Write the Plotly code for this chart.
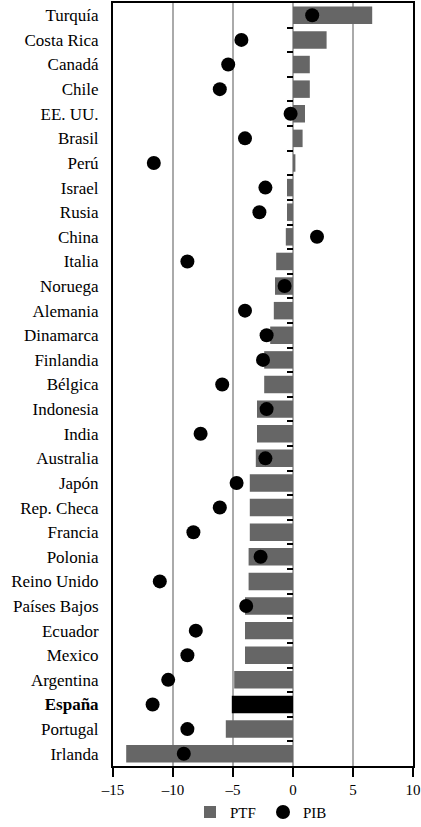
import plotly.graph_objects as go

countries = ["Turquía", "Costa Rica", "Canadá", "Chile", "EE. UU.", "Brasil", "Perú",
             "Israel", "Rusia", "China", "Italia", "Noruega", "Alemania", "Dinamarca",
             "Finlandia", "Bélgica", "Indonesia", "India", "Australia", "Japón",
             "Rep. Checa", "Francia", "Polonia", "Reino Unido", "Países Bajos",
             "Ecuador", "Mexico", "Argentina", "España", "Portugal", "Irlanda"]

ptf = [6.6, 2.8, 1.4, 1.4, 1.0, 0.8, 0.2,
       -0.5, -0.5, -0.6, -1.4, -1.5, -1.6, -1.9,
       -2.4, -2.4, -3.0, -3.0, -3.1, -3.6,
       -3.6, -3.6, -3.7, -3.7, -4.0,
       -4.0, -4.0, -4.9, -5.1, -5.6, -13.9]
pib = [1.6, -4.3, -5.4, -6.1, -0.2, -4.0, -11.6,
       -2.3, -2.8, 2.0, -8.8, -0.7, -4.0, -2.2,
       -2.5, -5.9, -2.2, -7.7, -2.3, -4.7,
       -6.1, -8.3, -2.7, -11.1, -3.9,
       -8.1, -8.8, -10.4, -11.7, -8.8, -9.1]
x_ticks = [-15, -10, -5, 0, 5, 10]
highlight = "España"

n = len(countries)
bar_colors = ["#000000" if c == highlight else "#666666" for c in countries]
tick_text = [f"<b>{c}</b>" if c == highlight else c for c in countries]
FONT = "Liberation Serif"

fig = go.Figure()
fig.add_trace(go.Bar(x=ptf, y=countries, orientation="h", name="PTF",
                     marker=dict(color=bar_colors, line=dict(width=0))))
fig.add_trace(go.Scatter(x=pib, y=countries, mode="markers", name="PIB",
                         marker=dict(color="black", size=14, symbol="circle")))
# helper trace for the boundary ticks along x=0
fig.add_trace(go.Scatter(x=[None], y=[None], yaxis="y2", showlegend=False, hoverinfo="skip"))

fig.update_layout(
    width=421, height=827,
    margin=dict(l=113, r=8, t=3, b=61, autoexpand=False),
    paper_bgcolor="white", plot_bgcolor="white",
    font=dict(family=FONT, size=15, color="black"),
    bargap=0.29,
    showlegend=True,
    legend=dict(orientation="h", x=0.5, xanchor="center", y=-0.039, yanchor="top",
                font=dict(size=15), itemwidth=30, entrywidth=28, tracegroupgap=0,
                bgcolor="rgba(0,0,0,0)"),
    xaxis=dict(range=[-15, 10], tickvals=x_ticks, automargin=False,
               ticktext=[f"\u2013{abs(v)}" if v < 0 else str(v) for v in x_ticks],
               showgrid=True, gridcolor="#aaaaaa", gridwidth=1.5, zeroline=False,
               showline=True, linecolor="black", linewidth=2, mirror=True,
               ticks="outside", ticklen=9, tickwidth=2, tickcolor="black",
               tickfont=dict(size=15)),
    yaxis=dict(type="category", categoryorder="array", categoryarray=countries,
               tickvals=countries, ticktext=tick_text, automargin=False,
               range=[n - 0.5, -0.5],
               showgrid=False, zeroline=False,
               showline=True, linecolor="black", linewidth=2, mirror=True,
               ticks="outside", ticklen=9, tickcolor="rgba(0,0,0,0)",
               tickfont=dict(size=17)),
    yaxis2=dict(overlaying="y", anchor="free", position=15 / 25, side="left",
                automargin=False,
                range=[n - 0.5, -0.5], tickvals=[i + 0.5 for i in range(n - 1)],
                ticks="outside", ticklen=6, tickwidth=1.5, tickcolor="black",
                showticklabels=False, showgrid=False, zeroline=False, showline=False),
)

fig.write_html("out.html", config={"displayModeBar": False},
               post_script="document.body.style.margin='0';document.body.style.padding='0';")
